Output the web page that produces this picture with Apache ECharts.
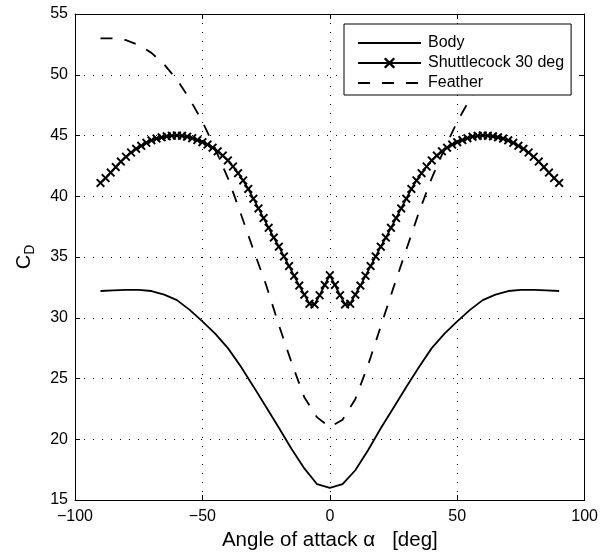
<!DOCTYPE html>
<html>
<head>
<meta charset="utf-8">
<script src="https://cdn.jsdelivr.net/npm/echarts@6/dist/echarts.min.js"></script>
<style>
html,body{margin:0;padding:0;background:#fff;}
#c{width:601px;height:556px;}
</style>
</head>
<body>
<div id="c"></div>
<script>
// ---- data ----
const xTicks = [-100, -50, 0, 50, 100];
const yTicks = [15, 20, 25, 30, 35, 40, 45, 50, 55];

const seriesNames = ['Body', 'Shuttlecock 30 deg', 'Feather'];

const bodyX = [-90,-85,-80,-75,-70,-65,-60,-55,-50,-45,-40,-35,-30,-25,-20,-15,-10,-5,0,
               5,10,15,20,25,30,35,40,45,50,55,60,65,70,75,80,85,90];
const bodyY = [32.2,32.25,32.3,32.3,32.2,31.9,31.45,30.65,29.7,28.7,27.5,26.0,24.35,22.65,20.95,19.2,17.6,16.3,16.0,
               16.3,17.45,19.1,20.9,22.6,24.3,25.95,27.5,28.7,29.7,30.65,31.45,31.9,32.2,32.3,32.3,32.25,32.2];

const shuttleX = [-90,-88,-86,-84,-82,-80,-78,-76,-74,-72,-70,-68,-66,-64,-62,-60,-58,-56,-54,-52,-50,-48,-46,-44,-42,-40,
                  -38,-36,-34,-32,-30,-28,-26,-24,-22,-20,-18,-16,-14,-12,-10,-8,-6,-4,-2,0,
                  2,4,6,8,10,12,14,16,18,20,22,24,26,28,30,32,34,36,38,40,42,44,46,48,50,52,54,56,58,60,
                  62,64,66,68,70,72,74,76,78,80,82,84,86,88,90];
const shuttleY = [41.1,41.5,41.95,42.4,42.85,43.25,43.6,43.9,44.15,44.4,44.6,44.75,44.85,44.93,44.98,45.0,44.97,44.9,44.78,44.62,44.45,44.25,44.0,43.7,43.35,42.95,
                  42.45,41.9,41.3,40.6,39.8,39.0,38.2,37.4,36.6,35.85,35.05,34.25,33.45,32.65,31.9,31.15,31.1,31.85,32.7,33.5,
                  32.7,31.85,31.1,31.15,31.9,32.65,33.45,34.25,35.05,35.85,36.6,37.4,38.2,39.0,39.8,40.6,41.3,41.9,42.45,42.95,43.35,43.7,44.0,44.25,44.45,44.62,44.78,44.9,44.97,45.0,
                  44.98,44.93,44.85,44.75,44.6,44.4,44.15,43.9,43.6,43.25,42.85,42.4,41.95,41.5,41.1];

const featherX = [-90,-85,-80,-75,-70,-65,-60,-55,-50,-45,-40,-35,-30,-25,-20,-15,-10,-5,0,
                  5,10,15,20,25,30,35,40,45,50,55,60,65,70,75,80,85,90];
const featherY = [53.0,53.0,52.85,52.45,51.8,50.85,49.6,48.0,46.15,43.9,41.5,38.6,35.6,32.7,29.4,26.3,23.45,21.8,21.0,
                  21.6,23.3,26.1,29.3,32.5,35.6,38.7,41.5,43.9,46.15,48.0,49.6,50.85,51.8,52.45,52.85,53.0,53.0];

// ---- chart ----
const pair = (xs, ys) => xs.map((x, i) => [x, ys[i]]);
const FONT = '"Liberation Sans", Arial, Helvetica, sans-serif';
const xMark = 'path://M0,1.5L1.5,0L5,3.5L8.5,0L10,1.5L6.5,5L10,8.5L8.5,10L5,6.5L1.5,10L0,8.5L3.5,5Z';
const fmtMinus = v => (v < 0 ? '\u2212' + Math.abs(v) : String(v));

const chart = echarts.init(document.getElementById('c'), null, {renderer: 'canvas'});
const baseAxis = (lo, hi, step) => ({
  type: 'value', min: lo, max: hi, interval: step
});
const xMin = xTicks[0], xMax = xTicks[xTicks.length - 1], xStep = xTicks[1] - xTicks[0];
const yMin = yTicks[0], yMax = yTicks[yTicks.length - 1], yStep = yTicks[1] - yTicks[0];
const gridDots = {show: true, lineStyle: {color: '#000', width: 1, type: [1, 8]}};

chart.setOption({
  animation: false,
  backgroundColor: '#fff',
  textStyle: {fontFamily: FONT},
  grid: {left: 75, right: 15, top: 14, bottom: 56, containLabel: false},
  xAxis: [
    Object.assign(baseAxis(xMin, xMax, xStep), {
      position: 'bottom',
      axisLine: {show: true, onZero: false, lineStyle: {color: '#000', width: 1}},
      axisTick: {show: true, inside: true, length: 5, lineStyle: {color: '#000'}},
      axisLabel: {color: '#000', fontSize: 16, margin: 9, fontFamily: FONT, formatter: fmtMinus},
      splitLine: gridDots,
      name: 'Angle of attack \u03b1   [deg]',
      nameLocation: 'middle', nameGap: 30,
      nameTextStyle: {color: '#000', fontSize: 20.5, fontFamily: FONT}
    }),
    Object.assign(baseAxis(xMin, xMax, xStep), {
      position: 'top',
      axisLine: {show: true, onZero: false, lineStyle: {color: '#000', width: 1}},
      axisTick: {show: true, inside: true, length: 5, lineStyle: {color: '#000'}},
      axisLabel: {show: false},
      splitLine: {show: false}
    })
  ],
  yAxis: [
    Object.assign(baseAxis(yMin, yMax, yStep), {
      position: 'left',
      axisLine: {show: true, onZero: false, lineStyle: {color: '#000', width: 1}},
      axisTick: {show: true, inside: true, length: 5, lineStyle: {color: '#000'}},
      axisLabel: {color: '#000', fontSize: 16, margin: 7, fontFamily: FONT},
      splitLine: gridDots,
      name: '{a|C}{b|D}',
      nameLocation: 'middle', nameGap: 38, nameRotate: 90,
      nameTextStyle: {
        color: '#000', fontFamily: FONT,
        rich: {
          a: {fontSize: 20, color: '#000', fontFamily: FONT},
          b: {fontSize: 14, color: '#000', fontFamily: FONT, padding: [12, 0, 0, 0]}
        }
      }
    }),
    Object.assign(baseAxis(yMin, yMax, yStep), {
      position: 'right',
      axisLine: {show: true, onZero: false, lineStyle: {color: '#000', width: 1}},
      axisTick: {show: true, inside: true, length: 5, lineStyle: {color: '#000'}},
      axisLabel: {show: false},
      splitLine: {show: false}
    })
  ],
  legend: {
    orient: 'vertical',
    left: 344, top: 24,
    padding: [11, 7, 4, 13],
    itemGap: 4,
    itemWidth: 63, itemHeight: 14,
    backgroundColor: '#fff',
    borderColor: '#000', borderWidth: 1, borderRadius: 0,
    textStyle: {color: '#000', fontSize: 16, fontFamily: FONT, padding: [0, 0, 0, 2]},
    data: [
      {name: seriesNames[0], itemStyle: {opacity: 0}},
      {name: seriesNames[1]},
      {name: seriesNames[2], itemStyle: {opacity: 0}}
    ]
  },
  series: [
    {
      name: seriesNames[0], type: 'line', data: pair(bodyX, bodyY),
      showSymbol: false, symbol: 'none',
      lineStyle: {color: '#000', width: 1.8}, itemStyle: {color: '#000'}, z: 3
    },
    {
      name: seriesNames[1], type: 'line', data: pair(shuttleX, shuttleY),
      symbol: xMark, symbolSize: 9, showSymbol: true, showAllSymbol: true,
      lineStyle: {color: '#000', width: 1.8}, itemStyle: {color: '#000'}, z: 4
    },
    {
      name: seriesNames[2], type: 'line', data: pair(featherX, featherY),
      showSymbol: false, symbol: 'none',
      lineStyle: {color: '#000', width: 1.8, type: [12, 12]}, itemStyle: {color: '#000'}, z: 2
    }
  ]
});
</script>
</body>
</html>
